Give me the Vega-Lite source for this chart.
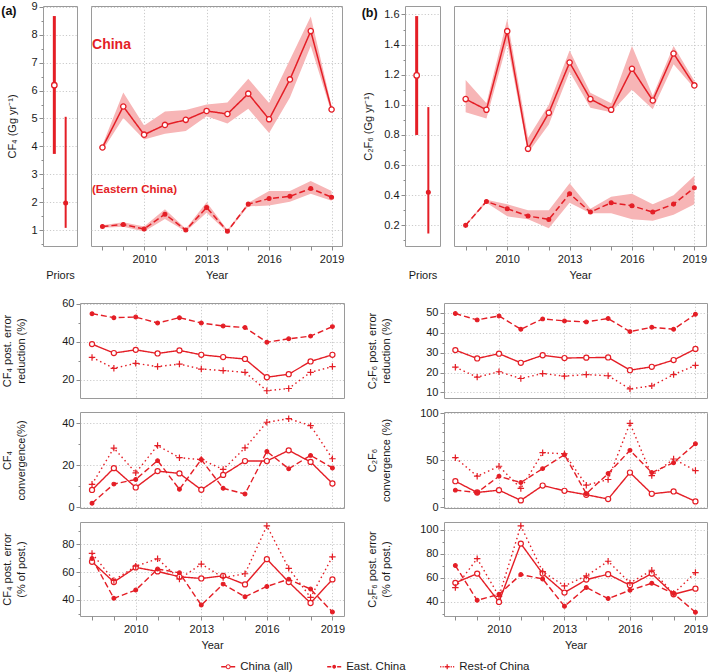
{
"$schema": "https://vega.github.io/schema/vega-lite/v6.json",
"padding": {"left": 0, "top": 0, "right": 0, "bottom": 0},
"config": {
  "font": "Liberation Sans",
  "view": {"stroke": "#9a9a9a", "strokeWidth": 1},
  "axis": {"domain": false, "tickColor": "#8c8c8c", "tickWidth": 1, "labelColor": "#1a1a1a", "labelFontSize": 11, "titleFontSize": 11, "titleFontWeight": "normal", "titleColor": "#1a1a1a", "gridColor": "#c4c4c4", "gridDash": [1.2, 2], "gridWidth": 0.9, "labelPadding": 2, "labelOverlap": false, "labelFlush": false}
},
"datasets": {
  "emis": [
    {"gas": "CF4", "series": "all", "year": 2008, "value": 3.96, "lo": 3.85, "hi": 4.05},
    {"gas": "CF4", "series": "all", "year": 2009, "value": 5.43, "lo": 5.02, "hi": 5.93},
    {"gas": "CF4", "series": "all", "year": 2010, "value": 4.42, "lo": 4.25, "hi": 4.75},
    {"gas": "CF4", "series": "all", "year": 2011, "value": 4.77, "lo": 4.45, "hi": 5.25},
    {"gas": "CF4", "series": "all", "year": 2012, "value": 4.95, "lo": 4.55, "hi": 5.3},
    {"gas": "CF4", "series": "all", "year": 2013, "value": 5.27, "lo": 5.08, "hi": 5.5},
    {"gas": "CF4", "series": "all", "year": 2014, "value": 5.16, "lo": 4.82, "hi": 5.57},
    {"gas": "CF4", "series": "all", "year": 2015, "value": 5.89, "lo": 5.35, "hi": 6.42},
    {"gas": "CF4", "series": "all", "year": 2016, "value": 4.97, "lo": 4.48, "hi": 5.55},
    {"gas": "CF4", "series": "all", "year": 2017, "value": 6.4, "lo": 5.75, "hi": 7.1},
    {"gas": "CF4", "series": "all", "year": 2018, "value": 8.13, "lo": 7.6, "hi": 8.65},
    {"gas": "CF4", "series": "all", "year": 2019, "value": 5.32, "lo": 5.2, "hi": 5.45},
    {"gas": "CF4", "series": "east", "year": 2008, "value": 1.13, "lo": 1.08, "hi": 1.17},
    {"gas": "CF4", "series": "east", "year": 2009, "value": 1.2, "lo": 1.12, "hi": 1.28},
    {"gas": "CF4", "series": "east", "year": 2010, "value": 1.04, "lo": 0.95, "hi": 1.13},
    {"gas": "CF4", "series": "east", "year": 2011, "value": 1.57, "lo": 1.4, "hi": 1.75},
    {"gas": "CF4", "series": "east", "year": 2012, "value": 1.0, "lo": 0.95, "hi": 1.05},
    {"gas": "CF4", "series": "east", "year": 2013, "value": 1.81, "lo": 1.62, "hi": 2.0},
    {"gas": "CF4", "series": "east", "year": 2014, "value": 0.96, "lo": 0.92, "hi": 1.0},
    {"gas": "CF4", "series": "east", "year": 2015, "value": 1.93, "lo": 1.85, "hi": 1.98},
    {"gas": "CF4", "series": "east", "year": 2016, "value": 2.13, "lo": 1.88, "hi": 2.4},
    {"gas": "CF4", "series": "east", "year": 2017, "value": 2.21, "lo": 2.02, "hi": 2.4},
    {"gas": "CF4", "series": "east", "year": 2018, "value": 2.49, "lo": 2.3, "hi": 2.76},
    {"gas": "CF4", "series": "east", "year": 2019, "value": 2.18, "lo": 2.05, "hi": 2.4},
    {"gas": "C2F6", "series": "all", "year": 2008, "value": 1.038, "lo": 0.95, "hi": 1.165},
    {"gas": "C2F6", "series": "all", "year": 2009, "value": 0.967, "lo": 0.91, "hi": 1.01},
    {"gas": "C2F6", "series": "all", "year": 2010, "value": 1.489, "lo": 1.41, "hi": 1.57},
    {"gas": "C2F6", "series": "all", "year": 2011, "value": 0.708, "lo": 0.68, "hi": 0.78},
    {"gas": "C2F6", "series": "all", "year": 2012, "value": 0.947, "lo": 0.87, "hi": 1.0},
    {"gas": "C2F6", "series": "all", "year": 2013, "value": 1.281, "lo": 1.22, "hi": 1.36},
    {"gas": "C2F6", "series": "all", "year": 2014, "value": 1.038, "lo": 0.98, "hi": 1.08},
    {"gas": "C2F6", "series": "all", "year": 2015, "value": 0.967, "lo": 0.95, "hi": 1.01},
    {"gas": "C2F6", "series": "all", "year": 2016, "value": 1.239, "lo": 1.1, "hi": 1.39},
    {"gas": "C2F6", "series": "all", "year": 2017, "value": 1.029, "lo": 0.97, "hi": 1.06},
    {"gas": "C2F6", "series": "all", "year": 2018, "value": 1.341, "lo": 1.27, "hi": 1.39},
    {"gas": "C2F6", "series": "all", "year": 2019, "value": 1.129, "lo": 1.11, "hi": 1.16},
    {"gas": "C2F6", "series": "east", "year": 2008, "value": 0.2, "lo": 0.195, "hi": 0.205},
    {"gas": "C2F6", "series": "east", "year": 2009, "value": 0.359, "lo": 0.35, "hi": 0.37},
    {"gas": "C2F6", "series": "east", "year": 2010, "value": 0.31, "lo": 0.26, "hi": 0.34},
    {"gas": "C2F6", "series": "east", "year": 2011, "value": 0.262, "lo": 0.24, "hi": 0.3},
    {"gas": "C2F6", "series": "east", "year": 2012, "value": 0.239, "lo": 0.18, "hi": 0.3},
    {"gas": "C2F6", "series": "east", "year": 2013, "value": 0.41, "lo": 0.35, "hi": 0.48},
    {"gas": "C2F6", "series": "east", "year": 2014, "value": 0.288, "lo": 0.28, "hi": 0.31},
    {"gas": "C2F6", "series": "east", "year": 2015, "value": 0.35, "lo": 0.28, "hi": 0.39},
    {"gas": "C2F6", "series": "east", "year": 2016, "value": 0.33, "lo": 0.24, "hi": 0.41},
    {"gas": "C2F6", "series": "east", "year": 2017, "value": 0.288, "lo": 0.23, "hi": 0.34},
    {"gas": "C2F6", "series": "east", "year": 2018, "value": 0.341, "lo": 0.27, "hi": 0.4},
    {"gas": "C2F6", "series": "east", "year": 2019, "value": 0.45, "lo": 0.34, "hi": 0.53}
  ],
  "priors": [
    {"gas": "CF4", "series": "all", "value": 6.19, "lo": 3.73, "hi": 8.67},
    {"gas": "CF4", "series": "east", "value": 1.97, "lo": 1.08, "hi": 5.06},
    {"gas": "C2F6", "series": "all", "value": 1.195, "lo": 0.8, "hi": 1.589},
    {"gas": "C2F6", "series": "east", "value": 0.42, "lo": 0.146, "hi": 0.985}
  ],
  "stats": [
    {"panel": "CF4_red", "year": 2008, "all": 38.8, "east": 54.8, "rest": 31.8},
    {"panel": "CF4_red", "year": 2009, "all": 34.1, "east": 52.7, "rest": 26.1},
    {"panel": "CF4_red", "year": 2010, "all": 35.8, "east": 53.0, "rest": 28.7},
    {"panel": "CF4_red", "year": 2011, "all": 33.9, "east": 49.9, "rest": 27.0},
    {"panel": "CF4_red", "year": 2012, "all": 35.5, "east": 52.7, "rest": 28.3},
    {"panel": "CF4_red", "year": 2013, "all": 33.2, "east": 49.9, "rest": 25.7},
    {"panel": "CF4_red", "year": 2014, "all": 32.0, "east": 48.3, "rest": 24.9},
    {"panel": "CF4_red", "year": 2015, "all": 31.0, "east": 47.5, "rest": 24.0},
    {"panel": "CF4_red", "year": 2016, "all": 21.4, "east": 39.8, "rest": 14.3},
    {"panel": "CF4_red", "year": 2017, "all": 23.0, "east": 41.6, "rest": 15.5},
    {"panel": "CF4_red", "year": 2018, "all": 29.7, "east": 43.0, "rest": 24.0},
    {"panel": "CF4_red", "year": 2019, "all": 33.2, "east": 48.0, "rest": 27.0},
    {"panel": "CF4_conv", "year": 2008, "all": 8.2, "east": 1.9, "rest": 10.9},
    {"panel": "CF4_conv", "year": 2009, "all": 18.6, "east": 11.0, "rest": 28.2},
    {"panel": "CF4_conv", "year": 2010, "all": 9.4, "east": 13.2, "rest": 16.4},
    {"panel": "CF4_conv", "year": 2011, "all": 17.2, "east": 22.2, "rest": 29.4},
    {"panel": "CF4_conv", "year": 2012, "all": 16.1, "east": 8.5, "rest": 23.6},
    {"panel": "CF4_conv", "year": 2013, "all": 8.3, "east": 22.7, "rest": 22.7},
    {"panel": "CF4_conv", "year": 2014, "all": 15.4, "east": 9.0, "rest": 18.0},
    {"panel": "CF4_conv", "year": 2015, "all": 22.0, "east": 6.3, "rest": 28.3},
    {"panel": "CF4_conv", "year": 2016, "all": 22.0, "east": 26.6, "rest": 40.5},
    {"panel": "CF4_conv", "year": 2017, "all": 27.1, "east": 18.3, "rest": 42.2},
    {"panel": "CF4_conv", "year": 2018, "all": 21.6, "east": 24.7, "rest": 38.9},
    {"panel": "CF4_conv", "year": 2019, "all": 11.3, "east": 18.7, "rest": 23.1},
    {"panel": "CF4_err", "year": 2008, "all": 67.5, "east": 69.9, "rest": 73.5},
    {"panel": "CF4_err", "year": 2009, "all": 52.8, "east": 41.0, "rest": 54.0},
    {"panel": "CF4_err", "year": 2010, "all": 63.4, "east": 47.0, "rest": 64.3},
    {"panel": "CF4_err", "year": 2011, "all": 60.5, "east": 62.2, "rest": 69.6},
    {"panel": "CF4_err", "year": 2012, "all": 56.6, "east": 59.5, "rest": 55.0},
    {"panel": "CF4_err", "year": 2013, "all": 55.4, "east": 36.1, "rest": 65.8},
    {"panel": "CF4_err", "year": 2014, "all": 57.3, "east": 51.3, "rest": 56.1},
    {"panel": "CF4_err", "year": 2015, "all": 51.1, "east": 42.2, "rest": 58.8},
    {"panel": "CF4_err", "year": 2016, "all": 69.4, "east": 49.6, "rest": 93.5},
    {"panel": "CF4_err", "year": 2017, "all": 52.8, "east": 54.9, "rest": 62.7},
    {"panel": "CF4_err", "year": 2018, "all": 37.6, "east": 47.7, "rest": 41.7},
    {"panel": "CF4_err", "year": 2019, "all": 54.7, "east": 31.1, "rest": 71.1},
    {"panel": "C2F6_red", "year": 2008, "all": 31.3, "east": 49.7, "rest": 22.7},
    {"panel": "C2F6_red", "year": 2009, "all": 27.1, "east": 46.5, "rest": 17.7},
    {"panel": "C2F6_red", "year": 2010, "all": 29.5, "east": 48.5, "rest": 20.4},
    {"panel": "C2F6_red", "year": 2011, "all": 24.9, "east": 41.8, "rest": 17.0},
    {"panel": "C2F6_red", "year": 2012, "all": 28.7, "east": 47.0, "rest": 19.5},
    {"panel": "C2F6_red", "year": 2013, "all": 27.3, "east": 46.0, "rest": 18.2},
    {"panel": "C2F6_red", "year": 2014, "all": 27.5, "east": 45.5, "rest": 19.0},
    {"panel": "C2F6_red", "year": 2015, "all": 27.6, "east": 47.2, "rest": 18.4},
    {"panel": "C2F6_red", "year": 2016, "all": 21.2, "east": 40.6, "rest": 11.8},
    {"panel": "C2F6_red", "year": 2017, "all": 22.9, "east": 42.8, "rest": 13.3},
    {"panel": "C2F6_red", "year": 2018, "all": 26.3, "east": 41.8, "rest": 19.0},
    {"panel": "C2F6_red", "year": 2019, "all": 31.9, "east": 49.3, "rest": 23.6},
    {"panel": "C2F6_conv", "year": 2008, "all": 27.8, "east": 18.3, "rest": 52.8},
    {"panel": "C2F6_conv", "year": 2009, "all": 15.8, "east": 15.8, "rest": 33.1},
    {"panel": "C2F6_conv", "year": 2010, "all": 18.3, "east": 33.1, "rest": 43.7},
    {"panel": "C2F6_conv", "year": 2011, "all": 7.4, "east": 26.4, "rest": 20.1},
    {"panel": "C2F6_conv", "year": 2012, "all": 23.2, "east": 41.2, "rest": 58.1},
    {"panel": "C2F6_conv", "year": 2013, "all": 17.6, "east": 56.0, "rest": 57.0},
    {"panel": "C2F6_conv", "year": 2014, "all": 13.4, "east": 14.5, "rest": 23.6},
    {"panel": "C2F6_conv", "year": 2015, "all": 8.8, "east": 35.9, "rest": 29.6},
    {"panel": "C2F6_conv", "year": 2016, "all": 37.0, "east": 60.6, "rest": 89.4},
    {"panel": "C2F6_conv", "year": 2017, "all": 14.4, "east": 37.0, "rest": 33.8},
    {"panel": "C2F6_conv", "year": 2018, "all": 16.9, "east": 47.5, "rest": 51.4},
    {"panel": "C2F6_conv", "year": 2019, "all": 6.3, "east": 67.6, "rest": 39.1},
    {"panel": "C2F6_err", "year": 2008, "all": 55.6, "east": 70.0, "rest": 51.7},
    {"panel": "C2F6_err", "year": 2009, "all": 63.3, "east": 41.1, "rest": 75.8},
    {"panel": "C2F6_err", "year": 2010, "all": 39.7, "east": 46.1, "rest": 44.4},
    {"panel": "C2F6_err", "year": 2011, "all": 88.3, "east": 62.5, "rest": 103.1},
    {"panel": "C2F6_err", "year": 2012, "all": 63.3, "east": 58.9, "rest": 65.0},
    {"panel": "C2F6_err", "year": 2013, "all": 47.5, "east": 36.1, "rest": 53.1},
    {"panel": "C2F6_err", "year": 2014, "all": 58.3, "east": 51.7, "rest": 61.4},
    {"panel": "C2F6_err", "year": 2015, "all": 62.8, "east": 42.5, "rest": 73.6},
    {"panel": "C2F6_err", "year": 2016, "all": 53.6, "east": 49.4, "rest": 55.6},
    {"panel": "C2F6_err", "year": 2017, "all": 63.3, "east": 55.3, "rest": 66.1},
    {"panel": "C2F6_err", "year": 2018, "all": 46.1, "east": 46.7, "rest": 46.7},
    {"panel": "C2F6_err", "year": 2019, "all": 50.8, "east": 31.1, "rest": 64.2}
  ]
},
"spacing": 16,
"vconcat": [
  {
    "bounds": "flush",
    "spacing": 14,
    "hconcat": [
      {
        "width": 34, "height": 240,
        "data": {"name": "priors"},
        "transform": [{"filter": "datum.gas === 'CF4'"}],
        "encoding": {
          "x": {"field": "series", "type": "nominal", "scale": {"type": "point", "padding": 1, "domain": ["all", "east"]}, "axis": {"labels": false, "ticks": false, "title": "Priors", "titlePadding": 23}}
        },
        "layer": [
          {"mark": {"type": "rule", "color": "#e41e26"},
           "encoding": {
             "y": {"field": "lo", "type": "quantitative", "scale": {"domain": [0.43, 9.03], "nice": false, "zero": false},
                   "axis": {"values": [0.5,1,1.5,2,2.5,3,3.5,4,4.5,5,5.5,6,6.5,7,7.5,8,8.5,9], "format": ".0f",
                            "labelExpr": "abs(datum.value - round(datum.value)) < 0.01 ? datum.label : ''",
                            "gridOpacity": {"condition": {"test": "abs(datum.value - round(datum.value)) < 0.01", "value": 1}, "value": 0},
                            "tickSize": {"condition": {"test": "abs(datum.value - round(datum.value)) < 0.01", "value": 4}, "value": 2},
                            "title": "CF₄ (Gg yr⁻¹)", "minExtent": 18, "maxExtent": 18, "titlePadding": 8}},
             "y2": {"field": "hi"},
             "strokeWidth": {"condition": {"test": "datum.series === 'all'", "value": 3}, "value": 2}
           }},
          {"mark": {"type": "point", "stroke": "#e41e26", "strokeWidth": 1.3, "opacity": 1},
           "encoding": {
             "y": {"field": "value", "type": "quantitative", "scale": {"domain": [0.43, 9.03], "nice": false, "zero": false},
                   "axis": {"values": [0.5,1,1.5,2,2.5,3,3.5,4,4.5,5,5.5,6,6.5,7,7.5,8,8.5,9], "format": ".0f",
                            "labelExpr": "abs(datum.value - round(datum.value)) < 0.01 ? datum.label : ''",
                            "gridOpacity": {"condition": {"test": "abs(datum.value - round(datum.value)) < 0.01", "value": 1}, "value": 0},
                            "tickSize": {"condition": {"test": "abs(datum.value - round(datum.value)) < 0.01", "value": 4}, "value": 2},
                            "title": "CF₄ (Gg yr⁻¹)", "minExtent": 18, "maxExtent": 18, "titlePadding": 8}},
             "fill": {"condition": {"test": "datum.series === 'all'", "value": "white"}, "value": "#e41e26"},
             "size": {"condition": {"test": "datum.series === 'all'", "value": 30}, "value": 14}
           }}
        ]
      },
      {
        "width": 251, "height": 240,
        "encoding": {
          "x": {"field": "year", "type": "quantitative", "scale": {"domain": [2007.45, 2019.5], "nice": false, "zero": false},
                "axis": {"values": [2008,2009,2010,2011,2012,2013,2014,2015,2016,2017,2018,2019], "format": "d",
                         "labelExpr": "datum.value % 3 === 0 ? datum.label : ''",
                         "gridOpacity": {"condition": {"test": "datum.value % 3 === 0", "value": 1}, "value": 0},
                         "tickSize": 4, "labelPadding": 3, "title": "Year", "titlePadding": 5}}
        },
        "layer": [
          {"data": {"name": "emis"}, "transform": [{"filter": "datum.gas === 'CF4'"}],
           "mark": {"type": "area", "color": "#f7b5b6", "opacity": 1},
           "encoding": {
             "y": {"field": "lo", "type": "quantitative", "scale": {"domain": [0.43, 9.03], "nice": false, "zero": false},
                   "axis": {"values": [1,2,3,4,5,6,7,8,9], "labels": false, "ticks": false, "title": null}},
             "y2": {"field": "hi"},
             "detail": {"field": "series", "type": "nominal"}
           }},
          {"data": {"name": "emis"}, "transform": [{"filter": "datum.gas === 'CF4'"}],
           "mark": {"type": "line", "color": "#e41e26", "strokeWidth": 1.5},
           "encoding": {
             "y": {"field": "value", "type": "quantitative"},
             "strokeDash": {"field": "series", "type": "nominal", "scale": {"domain": ["all", "east", "rest"], "range": [[1, 0], [6, 3], [1.5, 3]]}, "legend": null}
           }},
          {"data": {"name": "emis"}, "transform": [{"filter": "datum.gas === 'CF4'"}],
           "mark": {"type": "point", "stroke": "#e41e26", "strokeWidth": 1.3, "opacity": 1},
           "encoding": {
             "y": {"field": "value", "type": "quantitative"},
             "fill": {"condition": {"test": "datum.series === 'all'", "value": "white"}, "value": "#e41e26"},
             "size": {"condition": {"test": "datum.series === 'all'", "value": 28}, "value": 14}
           }},
          {"data": {"name": "emis"}, "transform": [{"filter": "datum.gas === 'CF4' && datum.series === 'all' && datum.year === 2008"}],
           "mark": {"type": "text", "text": "China", "color": "#e41e26", "fontSize": 14, "fontWeight": "bold", "align": "left", "baseline": "middle"},
           "encoding": {"x": {"datum": 2007.5, "type": "quantitative"}, "y": {"datum": 7.63, "type": "quantitative"}}},
          {"data": {"name": "emis"}, "transform": [{"filter": "datum.gas === 'CF4' && datum.series === 'east' && datum.year === 2008"}],
           "mark": {"type": "text", "text": "(Eastern China)", "color": "#e41e26", "fontSize": 11.5, "fontWeight": "bold", "align": "left", "baseline": "middle"},
           "encoding": {"x": {"datum": 2007.5, "type": "quantitative"}, "y": {"datum": 2.45, "type": "quantitative"}}},
          {"data": {"name": "emis"}, "transform": [{"filter": "datum.gas === 'CF4' && datum.series === 'all' && datum.year === 2009"}],
           "mark": {"type": "text", "text": "(a)", "color": "#111111", "fontSize": 12.5, "fontWeight": "bold", "align": "left", "baseline": "middle"},
           "encoding": {"x": {"datum": 2003.14, "type": "quantitative"}, "y": {"datum": 8.85, "type": "quantitative"}}}
        ]
      },
      {
        "width": 35, "height": 240,
        "view": {"stroke": null},
        "data": {"values": []},
        "mark": "point"
      },
      {
        "width": 35, "height": 240,
        "data": {"name": "priors"},
        "transform": [{"filter": "datum.gas === 'C2F6'"}],
        "encoding": {
          "x": {"field": "series", "type": "nominal", "scale": {"type": "point", "padding": 1, "domain": ["all", "east"]}, "axis": {"labels": false, "ticks": false, "title": "Priors", "titlePadding": 23}}
        },
        "layer": [
          {"mark": {"type": "rule", "color": "#e41e26"},
           "encoding": {
             "y": {"field": "lo", "type": "quantitative", "scale": {"domain": [0.063, 1.656], "nice": false, "zero": false},
                   "axis": {"values": [0.1,0.2,0.3,0.4,0.5,0.6,0.7,0.8,0.9,1.0,1.1,1.2,1.3,1.4,1.5,1.6], "format": ".1f",
                            "labelExpr": "round(datum.value * 10) % 2 === 0 ? datum.label : ''",
                            "gridOpacity": {"condition": {"test": "round(datum.value * 10) % 2 === 0", "value": 1}, "value": 0},
                            "tickSize": {"condition": {"test": "round(datum.value * 10) % 2 === 0", "value": 4}, "value": 2},
                            "title": "C₂F₆ (Gg yr⁻¹)", "minExtent": 22, "maxExtent": 22, "titlePadding": 9.5}},
             "y2": {"field": "hi"},
             "strokeWidth": {"condition": {"test": "datum.series === 'all'", "value": 3}, "value": 2}
           }},
          {"mark": {"type": "point", "stroke": "#e41e26", "strokeWidth": 1.3, "opacity": 1},
           "encoding": {
             "y": {"field": "value", "type": "quantitative", "scale": {"domain": [0.063, 1.656], "nice": false, "zero": false},
                   "axis": {"values": [0.1,0.2,0.3,0.4,0.5,0.6,0.7,0.8,0.9,1.0,1.1,1.2,1.3,1.4,1.5,1.6], "format": ".1f",
                            "labelExpr": "round(datum.value * 10) % 2 === 0 ? datum.label : ''",
                            "gridOpacity": {"condition": {"test": "round(datum.value * 10) % 2 === 0", "value": 1}, "value": 0},
                            "tickSize": {"condition": {"test": "round(datum.value * 10) % 2 === 0", "value": 4}, "value": 2},
                            "title": "C₂F₆ (Gg yr⁻¹)", "minExtent": 22, "maxExtent": 22, "titlePadding": 9.5}},
             "fill": {"condition": {"test": "datum.series === 'all'", "value": "white"}, "value": "#e41e26"},
             "size": {"condition": {"test": "datum.series === 'all'", "value": 30}, "value": 14}
           }}
        ]
      },
      {
        "width": 252, "height": 240,
        "encoding": {
          "x": {"field": "year", "type": "quantitative", "scale": {"domain": [2007.44, 2019.56], "nice": false, "zero": false},
                "axis": {"values": [2008,2009,2010,2011,2012,2013,2014,2015,2016,2017,2018,2019], "format": "d",
                         "labelExpr": "datum.value % 3 === 0 ? datum.label : ''",
                         "gridOpacity": {"condition": {"test": "datum.value % 3 === 0", "value": 1}, "value": 0},
                         "tickSize": 4, "labelPadding": 3, "title": "Year", "titlePadding": 5}}
        },
        "layer": [
          {"data": {"name": "emis"}, "transform": [{"filter": "datum.gas === 'C2F6'"}],
           "mark": {"type": "area", "color": "#f7b5b6", "opacity": 1},
           "encoding": {
             "y": {"field": "lo", "type": "quantitative", "scale": {"domain": [0.063, 1.656], "nice": false, "zero": false},
                   "axis": {"values": [0.2,0.4,0.6,0.8,1.0,1.2,1.4,1.6], "labels": false, "ticks": false, "title": null}},
             "y2": {"field": "hi"},
             "detail": {"field": "series", "type": "nominal"}
           }},
          {"data": {"name": "emis"}, "transform": [{"filter": "datum.gas === 'C2F6'"}],
           "mark": {"type": "line", "color": "#e41e26", "strokeWidth": 1.5},
           "encoding": {
             "y": {"field": "value", "type": "quantitative"},
             "strokeDash": {"field": "series", "type": "nominal", "scale": {"domain": ["all", "east", "rest"], "range": [[1, 0], [6, 3], [1.5, 3]]}, "legend": null}
           }},
          {"data": {"name": "emis"}, "transform": [{"filter": "datum.gas === 'C2F6'"}],
           "mark": {"type": "point", "stroke": "#e41e26", "strokeWidth": 1.3, "opacity": 1},
           "encoding": {
             "y": {"field": "value", "type": "quantitative"},
             "fill": {"condition": {"test": "datum.series === 'all'", "value": "white"}, "value": "#e41e26"},
             "size": {"condition": {"test": "datum.series === 'all'", "value": 28}, "value": 14}
           }},
          {"data": {"name": "emis"}, "transform": [{"filter": "datum.gas === 'C2F6' && datum.series === 'all' && datum.year === 2008"}],
           "mark": {"type": "text", "text": "(b)", "color": "#111111", "fontSize": 12.5, "fontWeight": "bold", "align": "left", "baseline": "middle"},
           "encoding": {"x": {"datum": 2003.0, "type": "quantitative"}, "y": {"datum": 1.607, "type": "quantitative"}}}
        ]
      }
    ]
  },
  {
    "bounds": "flush",
    "columns": 4,
    "align": "each",
    "spacing": {"row": 14, "column": 14},
    "concat": [
      {"width": 22.5, "height": 10, "view": {"stroke": null}, "data": {"values": []}, "mark": "point"},
      {
        "width": 264, "height": 95,
        "encoding": {
          "x": {"field": "year", "type": "quantitative", "scale": {"domain": [2007.45, 2019.53], "nice": false, "zero": false}, "axis": {"values": [2010, 2013, 2016, 2019], "labels": false, "ticks": false, "title": null}},
          "y": {"field": "value", "type": "quantitative", "scale": {"domain": [10.5, 60.4], "nice": false, "zero": false},
                "axis": {"values": [20, 30, 40, 50, 60], "format": "d",
                         "labelExpr": "datum.value % 20 === 0 ? datum.label : ''",
                         "gridOpacity": {"condition": {"test": "datum.value % 20 === 0", "value": 1}, "value": 0},
                         "tickSize": {"condition": {"test": "datum.value % 20 === 0", "value": 4}, "value": 2},
                         "title": ["CF₄ post. error", "reduction (%)"], "titleLineHeight": 14, "minExtent": 25, "maxExtent": 25, "titlePadding": 28.5}}
        },
        "layer": [
          {"data": {"name": "stats"}, "transform": [{"filter": "datum.panel === 'CF4_red'"}, {"fold": ["all", "east", "rest"], "as": ["series", "value"]}],
           "mark": {"type": "line", "color": "#e41e26", "strokeWidth": 1.4},
           "encoding": {"strokeDash": {"field": "series", "type": "nominal", "scale": {"domain": ["all", "east", "rest"], "range": [[1, 0], [6, 3], [1.5, 3]]}, "legend": null}}},
          {"data": {"name": "stats"}, "transform": [{"filter": "datum.panel === 'CF4_red'"}, {"fold": ["all", "east", "rest"], "as": ["series", "value"]}],
           "mark": {"type": "point", "stroke": "#e41e26", "strokeWidth": 1.2, "opacity": 1},
           "encoding": {
             "shape": {"condition": {"test": "datum.series === 'rest'", "value": "M-1,0H1M0,-1V1"}, "value": "circle"},
             "fill": {"condition": [{"test": "datum.series === 'all'", "value": "white"}, {"test": "datum.series === 'rest'", "value": "transparent"}], "value": "#e41e26"},
             "size": {"condition": [{"test": "datum.series === 'all'", "value": 26}, {"test": "datum.series === 'rest'", "value": 42}], "value": 14}
           }},
          {"data": {"name": "stats"}, "transform": [{"filter": "datum.panel === 'CF4_red' && datum.year === 2008"}],
           "mark": {"type": "text", "text": "(c)", "color": "#111111", "fontSize": 12.5, "fontWeight": "bold", "align": "left", "baseline": "middle"},
           "encoding": {"x": {"datum": 2003.82, "type": "quantitative"}, "y": {"datum": 64.76, "type": "quantitative"}}}
        ]
      },
      {"width": 71.3, "height": 10, "view": {"stroke": null}, "data": {"values": []}, "mark": "point"},
      {
        "width": 263, "height": 95,
        "encoding": {
          "x": {"field": "year", "type": "quantitative", "scale": {"domain": [2007.48, 2019.53], "nice": false, "zero": false}, "axis": {"values": [2010, 2013, 2016, 2019], "labels": false, "ticks": false, "title": null}},
          "y": {"field": "value", "type": "quantitative", "scale": {"domain": [7.2, 55], "nice": false, "zero": false},
                "axis": {"values": [10, 15, 20, 25, 30, 35, 40, 45, 50], "format": "d",
                         "labelExpr": "datum.value % 10 === 0 ? datum.label : ''",
                         "gridOpacity": {"condition": {"test": "datum.value % 10 === 0", "value": 1}, "value": 0},
                         "tickSize": {"condition": {"test": "datum.value % 10 === 0", "value": 4}, "value": 2},
                         "title": ["C₂F₆ post. error", "reduction (%)"], "titleLineHeight": 14, "minExtent": 25, "maxExtent": 25, "titlePadding": 27.8}}
        },
        "layer": [
          {"data": {"name": "stats"}, "transform": [{"filter": "datum.panel === 'C2F6_red'"}, {"fold": ["all", "east", "rest"], "as": ["series", "value"]}],
           "mark": {"type": "line", "color": "#e41e26", "strokeWidth": 1.4},
           "encoding": {"strokeDash": {"field": "series", "type": "nominal", "scale": {"domain": ["all", "east", "rest"], "range": [[1, 0], [6, 3], [1.5, 3]]}, "legend": null}}},
          {"data": {"name": "stats"}, "transform": [{"filter": "datum.panel === 'C2F6_red'"}, {"fold": ["all", "east", "rest"], "as": ["series", "value"]}],
           "mark": {"type": "point", "stroke": "#e41e26", "strokeWidth": 1.2, "opacity": 1},
           "encoding": {
             "shape": {"condition": {"test": "datum.series === 'rest'", "value": "M-1,0H1M0,-1V1"}, "value": "circle"},
             "fill": {"condition": [{"test": "datum.series === 'all'", "value": "white"}, {"test": "datum.series === 'rest'", "value": "transparent"}], "value": "#e41e26"},
             "size": {"condition": [{"test": "datum.series === 'all'", "value": 26}, {"test": "datum.series === 'rest'", "value": 42}], "value": 14}
           }},
          {"data": {"name": "stats"}, "transform": [{"filter": "datum.panel === 'C2F6_red' && datum.year === 2008"}],
           "mark": {"type": "text", "text": "(d)", "color": "#111111", "fontSize": 12.5, "fontWeight": "bold", "align": "left", "baseline": "middle"},
           "encoding": {"x": {"datum": 2003.71, "type": "quantitative"}, "y": {"datum": 59.19, "type": "quantitative"}}}
        ]
      },
      {"width": 22.5, "height": 10, "view": {"stroke": null}, "data": {"values": []}, "mark": "point"},
      {
        "width": 264, "height": 96,
        "data": {"name": "stats"},
        "transform": [{"filter": "datum.panel === 'CF4_conv'"}, {"fold": ["all", "east", "rest"], "as": ["series", "value"]}],
        "encoding": {
          "x": {"field": "year", "type": "quantitative", "scale": {"domain": [2007.45, 2019.53], "nice": false, "zero": false}, "axis": {"values": [2010, 2013, 2016, 2019], "labels": false, "ticks": false, "title": null}},
          "y": {"field": "value", "type": "quantitative", "scale": {"domain": [-0.4, 45.4], "nice": false, "zero": false},
                "axis": {"values": [0, 10, 20, 30, 40], "format": "d",
                         "labelExpr": "datum.value % 20 === 0 ? datum.label : ''",
                         "gridOpacity": {"condition": {"test": "datum.value % 20 === 0", "value": 1}, "value": 0},
                         "tickSize": {"condition": {"test": "datum.value % 20 === 0", "value": 4}, "value": 2},
                         "title": ["CF₄", "convergence(%)"], "titleLineHeight": 14, "minExtent": 25, "maxExtent": 25, "titlePadding": 28.5}}
        },
        "layer": [
          {"mark": {"type": "line", "color": "#e41e26", "strokeWidth": 1.4},
           "encoding": {"strokeDash": {"field": "series", "type": "nominal", "scale": {"domain": ["all", "east", "rest"], "range": [[1, 0], [6, 3], [1.5, 3]]}, "legend": null}}},
          {"mark": {"type": "point", "stroke": "#e41e26", "strokeWidth": 1.2, "opacity": 1},
           "encoding": {
             "shape": {"condition": {"test": "datum.series === 'rest'", "value": "M-1,0H1M0,-1V1"}, "value": "circle"},
             "fill": {"condition": [{"test": "datum.series === 'all'", "value": "white"}, {"test": "datum.series === 'rest'", "value": "transparent"}], "value": "#e41e26"},
             "size": {"condition": [{"test": "datum.series === 'all'", "value": 26}, {"test": "datum.series === 'rest'", "value": 42}], "value": 14}
           }}
        ]
      },
      {"width": 71.3, "height": 10, "view": {"stroke": null}, "data": {"values": []}, "mark": "point"},
      {
        "width": 263, "height": 96,
        "data": {"name": "stats"},
        "transform": [{"filter": "datum.panel === 'C2F6_conv'"}, {"fold": ["all", "east", "rest"], "as": ["series", "value"]}],
        "encoding": {
          "x": {"field": "year", "type": "quantitative", "scale": {"domain": [2007.48, 2019.53], "nice": false, "zero": false}, "axis": {"values": [2010, 2013, 2016, 2019], "labels": false, "ticks": false, "title": null}},
          "y": {"field": "value", "type": "quantitative", "scale": {"domain": [-0.7, 101.4], "nice": false, "zero": false},
                "axis": {"values": [0, 10, 20, 30, 40, 50, 60, 70, 80, 90, 100], "format": "d",
                         "labelExpr": "datum.value % 50 === 0 ? datum.label : ''",
                         "gridOpacity": {"condition": {"test": "datum.value % 50 === 0", "value": 1}, "value": 0},
                         "tickSize": {"condition": {"test": "datum.value % 50 === 0", "value": 4}, "value": 2},
                         "title": ["C₂F₆", "convergence (%)"], "titleLineHeight": 14, "minExtent": 25, "maxExtent": 25, "titlePadding": 27.8}}
        },
        "layer": [
          {"mark": {"type": "line", "color": "#e41e26", "strokeWidth": 1.4},
           "encoding": {"strokeDash": {"field": "series", "type": "nominal", "scale": {"domain": ["all", "east", "rest"], "range": [[1, 0], [6, 3], [1.5, 3]]}, "legend": null}}},
          {"mark": {"type": "point", "stroke": "#e41e26", "strokeWidth": 1.2, "opacity": 1},
           "encoding": {
             "shape": {"condition": {"test": "datum.series === 'rest'", "value": "M-1,0H1M0,-1V1"}, "value": "circle"},
             "fill": {"condition": [{"test": "datum.series === 'all'", "value": "white"}, {"test": "datum.series === 'rest'", "value": "transparent"}], "value": "#e41e26"},
             "size": {"condition": [{"test": "datum.series === 'all'", "value": 26}, {"test": "datum.series === 'rest'", "value": 42}], "value": 14}
           }}
        ]
      },
      {"width": 22.5, "height": 10, "view": {"stroke": null}, "data": {"values": []}, "mark": "point"},
      {
        "width": 264, "height": 94,
        "data": {"name": "stats"},
        "transform": [{"filter": "datum.panel === 'CF4_err'"}, {"fold": ["all", "east", "rest"], "as": ["series", "value"]}],
        "encoding": {
          "x": {"field": "year", "type": "quantitative", "scale": {"domain": [2007.45, 2019.53], "nice": false, "zero": false},
                "axis": {"values": [2008,2009,2010,2011,2012,2013,2014,2015,2016,2017,2018,2019], "format": "d",
                         "labelExpr": "datum.value % 3 === 0 ? datum.label : ''",
                         "gridOpacity": {"condition": {"test": "datum.value % 3 === 0", "value": 1}, "value": 0},
                         "tickSize": 4, "labelPadding": 3, "title": "Year", "titlePadding": 5}},
          "y": {"field": "value", "type": "quantitative", "scale": {"domain": [28.2, 96.3], "nice": false, "zero": false},
                "axis": {"values": [30, 40, 50, 60, 70, 80, 90], "format": "d",
                         "labelExpr": "datum.value % 20 === 0 ? datum.label : ''",
                         "gridOpacity": {"condition": {"test": "datum.value % 20 === 0", "value": 1}, "value": 0},
                         "tickSize": {"condition": {"test": "datum.value % 20 === 0", "value": 4}, "value": 2},
                         "title": ["CF₄ post. error", "(% of post.)"], "titleLineHeight": 14, "minExtent": 25, "maxExtent": 25, "titlePadding": 28.5}}
        },
        "layer": [
          {"mark": {"type": "line", "color": "#e41e26", "strokeWidth": 1.4},
           "encoding": {"strokeDash": {"field": "series", "type": "nominal", "scale": {"domain": ["all", "east", "rest"], "range": [[1, 0], [6, 3], [1.5, 3]]}, "legend": null}}},
          {"mark": {"type": "point", "stroke": "#e41e26", "strokeWidth": 1.2, "opacity": 1},
           "encoding": {
             "shape": {"condition": {"test": "datum.series === 'rest'", "value": "M-1,0H1M0,-1V1"}, "value": "circle"},
             "fill": {"condition": [{"test": "datum.series === 'all'", "value": "white"}, {"test": "datum.series === 'rest'", "value": "transparent"}], "value": "#e41e26"},
             "size": {"condition": [{"test": "datum.series === 'all'", "value": 26}, {"test": "datum.series === 'rest'", "value": 42}], "value": 14}
           }},
          {"data": {"values": []},
           "mark": {"type": "point", "filled": true, "color": "#e41e26", "opacity": 1},
           "encoding": {
             "shape": {"field": "label", "type": "nominal",
                       "scale": {"domain": ["China (all)", "East. China", "Rest-of China"],
                                 "range": [
                                   "M-1,-0.1H-0.36V0.1H-1Z M0.36,-0.1H1V0.1H0.36Z M0.36,0A0.36,0.36,0,1,1,-0.36,0A0.36,0.36,0,1,1,0.36,0Z M0.22,0A0.22,0.22,0,1,0,-0.22,0A0.22,0.22,0,1,0,0.22,0Z",
                                   "M-1,-0.1H-0.42V0.1H-1Z M0.42,-0.1H1V0.1H0.42Z M0.27,0A0.27,0.27,0,1,1,-0.27,0A0.27,0.27,0,1,1,0.27,0Z",
                                   "M-1,-0.09H-0.84V0.09H-1Z M-0.66,-0.09H-0.5V0.09H-0.66Z M0.5,-0.09H0.66V0.09H0.5Z M0.84,-0.09H1V0.09H0.84Z M-0.36,-0.09H0.36V0.09H-0.36Z M-0.09,-0.36H0.09V0.36H-0.09Z"
                                 ]},
                       "legend": {"orient": "none", "legendX": 178.2, "legendY": 653.5, "direction": "horizontal", "title": null,
                                  "symbolSize": 196, "symbolStrokeWidth": 0, "symbolFillColor": "#e41e26", "symbolOpacity": 1,
                                  "labelFontSize": 11.5, "labelColor": "#1a1a1a", "labelOffset": 5, "columnPadding": 34, "labelLimit": 200}}
           }}
        ]
      },
      {"width": 71.3, "height": 10, "view": {"stroke": null}, "data": {"values": []}, "mark": "point"},
      {
        "width": 263, "height": 94,
        "data": {"name": "stats"},
        "transform": [{"filter": "datum.panel === 'C2F6_err'"}, {"fold": ["all", "east", "rest"], "as": ["series", "value"]}],
        "encoding": {
          "x": {"field": "year", "type": "quantitative", "scale": {"domain": [2007.48, 2019.53], "nice": false, "zero": false},
                "axis": {"values": [2008,2009,2010,2011,2012,2013,2014,2015,2016,2017,2018,2019], "format": "d",
                         "labelExpr": "datum.value % 3 === 0 ? datum.label : ''",
                         "gridOpacity": {"condition": {"test": "datum.value % 3 === 0", "value": 1}, "value": 0},
                         "tickSize": 4, "labelPadding": 3, "title": "Year", "titlePadding": 5}},
          "y": {"field": "value", "type": "quantitative", "scale": {"domain": [28, 106.3], "nice": false, "zero": false},
                "axis": {"values": [30, 40, 50, 60, 70, 80, 90, 100], "format": "d",
                         "labelExpr": "datum.value % 20 === 0 ? datum.label : ''",
                         "gridOpacity": {"condition": {"test": "datum.value % 20 === 0", "value": 1}, "value": 0},
                         "tickSize": {"condition": {"test": "datum.value % 20 === 0", "value": 4}, "value": 2},
                         "title": ["C₂F₆ post. error", "(% of post.)"], "titleLineHeight": 14, "minExtent": 25, "maxExtent": 25, "titlePadding": 27.8}}
        },
        "layer": [
          {"mark": {"type": "line", "color": "#e41e26", "strokeWidth": 1.4},
           "encoding": {"strokeDash": {"field": "series", "type": "nominal", "scale": {"domain": ["all", "east", "rest"], "range": [[1, 0], [6, 3], [1.5, 3]]}, "legend": null}}},
          {"mark": {"type": "point", "stroke": "#e41e26", "strokeWidth": 1.2, "opacity": 1},
           "encoding": {
             "shape": {"condition": {"test": "datum.series === 'rest'", "value": "M-1,0H1M0,-1V1"}, "value": "circle"},
             "fill": {"condition": [{"test": "datum.series === 'all'", "value": "white"}, {"test": "datum.series === 'rest'", "value": "transparent"}], "value": "#e41e26"},
             "size": {"condition": [{"test": "datum.series === 'all'", "value": 26}, {"test": "datum.series === 'rest'", "value": 42}], "value": 14}
           }}
        ]
      }
    ]
  }
]
}
